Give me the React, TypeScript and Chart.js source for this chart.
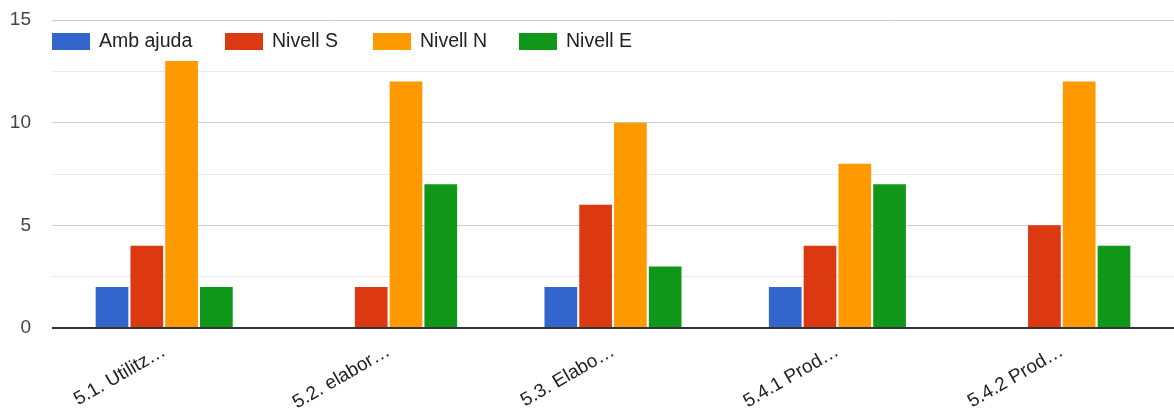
import React, { useEffect, useRef } from "react";
import { Chart, registerables } from "chart.js";

Chart.register(...registerables);

const categories = ["5.1. Utilitz…", "5.2. elabor…", "5.3. Elabo…", "5.4.1 Prod…", "5.4.2 Prod…"];
const seriesNames = ["Amb ajuda", "Nivell S", "Nivell N", "Nivell E"];
const ambAjuda = [2, 0, 2, 2, 0];
const nivellS = [4, 2, 6, 4, 5];
const nivellN = [13, 12, 10, 8, 12];
const nivellE = [2, 7, 3, 7, 4];
const colors = ["#3366cc", "#dc3912", "#ff9900", "#109618"];
const yTicks = [0, 5, 10, 15];

const FONT = "'Liberation Sans', Arial, sans-serif";

const insideLegend = {
  id: "insideLegend",
  afterDatasetsDraw(chart: any) {
    const ctx = chart.ctx;
    const starts = [52, 225, 373, 519];
    ctx.save();
    ctx.font = `19.5px ${FONT}`;
    ctx.textBaseline = "middle";
    chart.data.datasets.forEach((ds: any, i: number) => {
      const x = starts[i];
      ctx.fillStyle = ds.backgroundColor;
      ctx.fillRect(x, 33, 38, 17);
      ctx.fillStyle = "#222";
      ctx.fillText(ds.label, x + 47, 42);
    });
    ctx.restore();
  },
};

export default function App() {
  const ref = useRef<HTMLCanvasElement>(null);
  useEffect(() => {
    document.body.style.margin = "0";
    const values = [ambAjuda, nivellS, nivellN, nivellE];
    const chart = new Chart(ref.current!, {
      type: "bar",
      data: {
        labels: categories,
        datasets: seriesNames.map((name, i) => ({
          label: name,
          data: values[i],
          backgroundColor: colors[i],
          borderColor: "#ffffff",
          borderWidth: 0,
          categoryPercentage: 0.62,
          barPercentage: 0.94,
        })),
      },
      options: {
        animation: false,
        responsive: false,
        maintainAspectRatio: false,
        layout: { padding: { top: 20, right: 0, left: 0, bottom: 0 } },
        plugins: { legend: { display: false }, tooltip: { enabled: false } },
        scales: {
          x: {
            grid: { display: false },
            border: { display: false },
            ticks: {
              color: "#222",
              font: { family: FONT, size: 19 },
              maxRotation: 30,
              minRotation: 30,
              autoSkip: false,
              padding: 4,
            },
            afterFit: (s: any) => {
              s.height = 80;
              s.paddingLeft = 0;
              s.paddingRight = 0;
            },
          },
          y: {
            min: 0,
            max: 15,
            border: { display: false },
            grid: {
              drawTicks: false,
              color: (c: any) =>
                c.tick.value === 0 ? "#333333" : c.tick.value % 5 === 0 ? "#cccccc" : "#e8e8e8",
              lineWidth: (c: any) => (c.tick.value === 0 ? 2 : 1),
            },
            ticks: {
              stepSize: 2.5,
              color: "#444",
              font: { family: FONT, size: 19 },
              padding: 21,
              callback: (v: any) => (yTicks.includes(Number(v)) ? String(v) : ""),
            },
            afterFit: (s: any) => {
              s.width = 52;
              s.paddingTop = 0;
              s.paddingBottom = 0;
            },
          },
        },
      },
      plugins: [insideLegend],
    });
    return () => chart.destroy();
  }, []);
  return (
    <div style={{ position: "fixed", left: 0, top: 0, width: 1174, height: 408 }}>
      <canvas ref={ref} width={1174} height={408} style={{ width: 1174, height: 408 }} />
    </div>
  );
}
